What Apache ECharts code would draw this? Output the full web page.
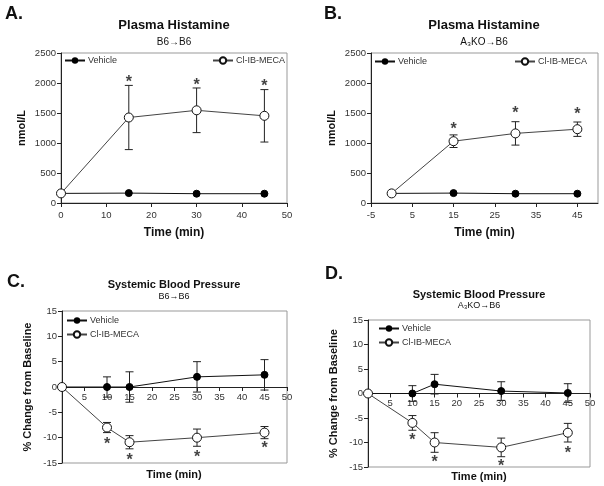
<!DOCTYPE html>
<html><head><meta charset="utf-8">
<script src="https://cdn.jsdelivr.net/npm/echarts@6/dist/echarts.min.js"></script>
<style>html,body{margin:0;padding:0;background:#fff}#c{width:604px;height:486px}</style>
</head><body><div id="c"></div>
<script>
// ---- Data ----
const timeAB = [0, 15, 30, 45];
const starTimeAB = [15, 30, 45];
const aVehicle = [160, 165, 155, 155];
const aClIB = [160, 1425, 1545, 1453];
const aClIBErr = [0, 535, 372, 437];
const aStars = [2080, 2030, 2005];

const bVehicle = [160, 165, 155, 155];
const bClIB = [160, 1030, 1160, 1230];
const bClIBErr = [0, 105, 195, 120];
const bStars = [1285, 1560, 1535];

const timeCD = [0, 10, 15, 30, 45];
const starTimeCD = [10, 15, 30, 45];
const cVehicle = [0, 0, 0, 2, 2.4];
const cVehicleErr = [0, 2, 3, 3, 3];
const cClIB = [0, -8, -10.9, -10, -9];
const cClIBErr = [0, 1, 1.3, 1.7, 1.2];
const cStars = [-10.5, -13.7, -13.2, -11.3];

const dVehicle = [0, 0, 1.9, 0.5, 0.1];
const dVehicleErr = [0, 1.6, 2, 1.9, 1.9];
const dClIB = [0, -6, -10, -11, -8];
const dClIBErr = [0, 1.5, 2, 1.9, 1.9];
const dStars = [-8.7, -13.3, -14.1, -11.5];

const FONT = '"Liberation Sans", Arial, sans-serif';
const chart = echarts.init(document.getElementById('c'));

function pairs(t, v) { return t.map((x, i) => [x, v[i]]); }
function errData(t, v, e) { return t.map((x, i) => [x, v[i] - e[i], v[i] + e[i]]).filter((d, i) => e[i] > 0); }

function errSeries(idx, data) {
  return {
    type: 'custom', xAxisIndex: idx, yAxisIndex: idx, z: 1, silent: true,
    data: data,
    encode: { x: 0, y: [1, 2] },
    renderItem: function (params, api) {
      const x = api.value(0);
      const lo = api.coord([x, api.value(1)]);
      const hi = api.coord([x, api.value(2)]);
      const w = 4;
      const st = { stroke: '#222', lineWidth: 1 };
      return { type: 'group', children: [
        { type: 'line', shape: { x1: lo[0], y1: lo[1], x2: hi[0], y2: hi[1] }, style: st },
        { type: 'line', shape: { x1: hi[0] - w, y1: hi[1], x2: hi[0] + w, y2: hi[1] }, style: st },
        { type: 'line', shape: { x1: lo[0] - w, y1: lo[1], x2: lo[0] + w, y2: lo[1] }, style: st }
      ]};
    }
  };
}
function vehSeries(idx, data) {
  return { name: 'Vehicle', type: 'line', xAxisIndex: idx, yAxisIndex: idx, z: 3, data: data,
    symbol: 'circle', symbolSize: 7, lineStyle: { color: '#111', width: 1 },
    itemStyle: { color: '#000', borderColor: '#000' } };
}
function clSeries(idx, data) {
  return { name: 'Cl-IB-MECA', type: 'line', xAxisIndex: idx, yAxisIndex: idx, z: 4, data: data,
    symbol: 'circle', symbolSize: 9, lineStyle: { color: '#444', width: 1 },
    itemStyle: { color: '#fff', borderColor: '#111', borderWidth: 1 } };
}
function starSeries(idx, data) {
  return { type: 'scatter', xAxisIndex: idx, yAxisIndex: idx, z: 5, silent: true, data: data,
    symbolSize: 0,
    label: { show: true, position: 'inside', formatter: '*', fontFamily: FONT, fontSize: 16,
      fontWeight: 'bold', color: '#111', offset: [0, 4] } };
}

const axisLbl = { fontFamily: FONT, fontSize: 9.5, color: '#333', margin: 5, formatter: v => String(v) };
function xAxisCfg(idx, min, max, interval, opts) {
  return Object.assign({
    type: 'value', gridIndex: idx, min: min, max: max, interval: interval,
    splitLine: { show: false },
    axisLine: { onZero: false, lineStyle: { color: '#222' } },
    axisTick: { length: 4, lineStyle: { color: '#222' } },
    axisLabel: Object.assign({}, axisLbl)
  }, opts || {});
}
function yAxisCfg(idx, min, max, interval, name, gap) {
  return {
    type: 'value', gridIndex: idx, min: min, max: max, interval: interval,
    splitLine: { show: false },
    axisLine: { show: true, onZero: false, lineStyle: { color: '#222' } },
    axisTick: { show: true, length: 4, lineStyle: { color: '#222' } },
    axisLabel: Object.assign({}, axisLbl),
    name: name, nameLocation: 'middle', nameGap: gap, nameRotate: 90,
    nameTextStyle: { fontFamily: FONT, fontSize: 11, fontWeight: 'bold', color: '#111' }
  };
}
const legendText = { fontFamily: FONT, fontSize: 9, color: '#333', padding: [0, 0, 0, -2] };
function legend(names, pos, orient) {
  return Object.assign({ data: names, orient: orient || 'horizontal', itemWidth: 20, itemHeight: 8,
    itemGap: 5, textStyle: legendText, selectedMode: false, padding: 0 }, pos);
}

function txt(x, y, s, size, bold, align) {
  return { type: 'text', x: x, y: y, style: { text: s, fontFamily: FONT, fontSize: size,
    fontWeight: bold ? 'bold' : 'normal', fill: '#111', align: align || 'center', verticalAlign: 'middle' } };
}

const gridC = { left: 62, top: 311, width: 225, height: 152 };
const gridD = { left: 368, top: 320, width: 222, height: 147 };
const nameStyle = { fontFamily: FONT, fontSize: 12, fontWeight: 'bold', color: '#111' };

const option = {
  backgroundColor: '#fff',
  animation: false,
  grid: [
    { left: 61, top: 53, width: 226, height: 150, show: true, borderColor: '#999', borderWidth: 1 },
    { left: 371, top: 53, width: 227, height: 150, show: true, borderColor: '#999', borderWidth: 1 },
    Object.assign({ show: true, borderColor: '#999', borderWidth: 1 }, gridC),
    Object.assign({ show: true, borderColor: '#999', borderWidth: 1 }, gridD)
  ],
  xAxis: [
    xAxisCfg(0, 0, 50, 10, { name: 'Time (min)', nameLocation: 'middle', nameGap: 24,
      nameTextStyle: nameStyle, axisLabel: Object.assign({}, axisLbl, { margin: 7 }) }),
    xAxisCfg(1, -5, 50, 10, { name: 'Time (min)', nameLocation: 'middle', nameGap: 24,
      nameTextStyle: nameStyle,
      axisLabel: Object.assign({}, axisLbl, { margin: 7, showMaxLabel: false }) }),
    xAxisCfg(2, 0, 50, 5, { offset: -gridC.height / 2,
      axisLabel: Object.assign({}, axisLbl, { showMinLabel: false }) }),
    xAxisCfg(3, 0, 50, 5, { offset: -gridD.height / 2,
      axisLabel: Object.assign({}, axisLbl, { showMinLabel: false }) })
  ],
  yAxis: [
    yAxisCfg(0, 0, 2500, 500, 'nmol/L', 34),
    yAxisCfg(1, 0, 2500, 500, 'nmol/L', 34),
    yAxisCfg(2, -15, 15, 5, '% Change from Baseline', 29),
    yAxisCfg(3, -15, 15, 5, '% Change from Baseline', 29)
  ],
  legend: [
    legend(['Vehicle'], { left: 64, top: 56 }),
    legend(['Cl-IB-MECA'], { right: 319, top: 56 }),
    legend(['Vehicle'], { left: 374, top: 57 }),
    legend(['Cl-IB-MECA'], { right: 17, top: 57 }),
    legend(['Vehicle', 'Cl-IB-MECA'], { left: 66, top: 316 }, 'vertical'),
    legend(['Vehicle', 'Cl-IB-MECA'], { left: 378, top: 324 }, 'vertical')
  ],
  graphic: [
    txt(5, 14, 'A.', 18, true, 'left'),
    txt(324, 14, 'B.', 18, true, 'left'),
    txt(7, 282, 'C.', 18, true, 'left'),
    txt(325, 274, 'D.', 18, true, 'left'),
    txt(174, 25, 'Plasma Histamine', 13, true),
    txt(174, 42, 'B6\u2192B6', 10, false),
    txt(484, 25, 'Plasma Histamine', 13, true),
    txt(484, 42, 'A\u2083KO\u2192B6', 10, false),
    txt(174, 285, 'Systemic Blood Pressure', 11, true),
    txt(174, 297, 'B6\u2192B6', 9, false),
    txt(479, 295, 'Systemic Blood Pressure', 11, true),
    txt(479, 306, 'A\u2083KO\u2192B6', 9, false),
    txt(174, 475, 'Time (min)', 11, true),
    txt(479, 477, 'Time (min)', 11, true)
  ],
  series: [
    errSeries(0, errData(timeAB, aClIB, aClIBErr)),
    vehSeries(0, pairs(timeAB, aVehicle)),
    clSeries(0, pairs(timeAB, aClIB)),
    starSeries(0, pairs(starTimeAB, aStars)),

    errSeries(1, errData(timeAB, bClIB, bClIBErr)),
    vehSeries(1, pairs(timeAB, bVehicle)),
    clSeries(1, pairs(timeAB, bClIB)),
    starSeries(1, pairs(starTimeAB, bStars)),

    errSeries(2, errData(timeCD, cVehicle, cVehicleErr)),
    errSeries(2, errData(timeCD, cClIB, cClIBErr)),
    vehSeries(2, pairs(timeCD, cVehicle)),
    clSeries(2, pairs(timeCD, cClIB)),
    starSeries(2, pairs(starTimeCD, cStars)),

    errSeries(3, errData(timeCD, dVehicle, dVehicleErr)),
    errSeries(3, errData(timeCD, dClIB, dClIBErr)),
    vehSeries(3, pairs(timeCD, dVehicle)),
    clSeries(3, pairs(timeCD, dClIB)),
    starSeries(3, pairs(starTimeCD, dStars))
  ]
};
chart.setOption(option);
</script></body></html>
